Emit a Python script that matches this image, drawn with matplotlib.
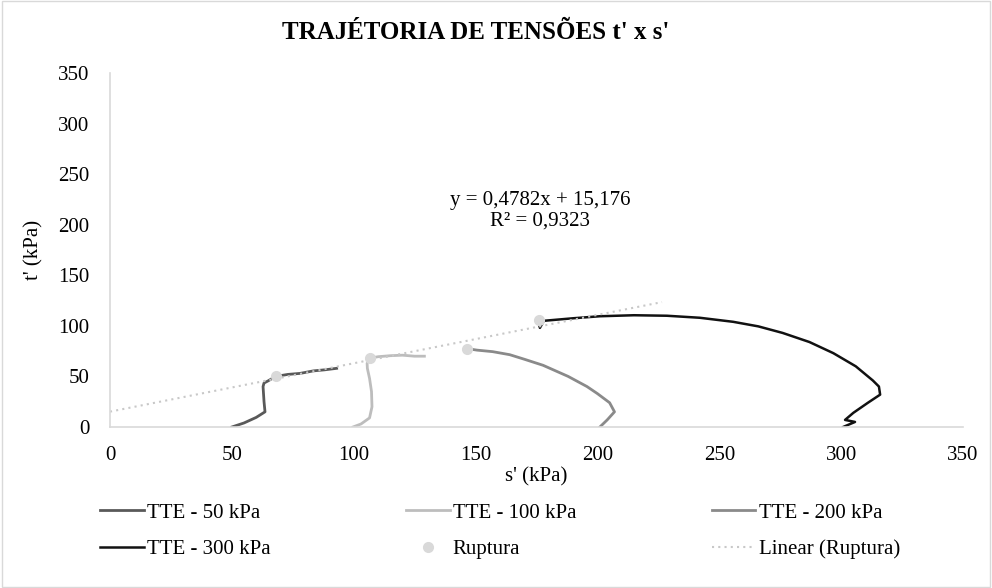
import matplotlib.pyplot as plt
import numpy as np
from matplotlib.patches import Rectangle

plt.rcParams['font.family'] = ['Liberation Serif', 'DejaVu Serif']

# stress paths (s', t') in kPa
s50 = [50, 55, 60, 63.6, 63.2, 62.8, 63.2, 64.8, 68, 73, 78, 83.5, 88, 93]
t50 = [0, 4, 9.5, 15, 25, 40, 43.5, 45.5, 50, 52, 53, 55.5, 56.5, 58]

s100 = [99.7, 103, 106.5, 107.5, 107.3, 106.5, 105.6, 105.5, 106.7, 110, 115, 120, 125, 129]
t100 = [0, 3, 9, 20, 35, 48, 58, 63, 68, 69.5, 70.5, 71, 70, 70]

s200 = [201, 204, 207, 205, 200, 195.7, 188, 177.7, 170, 164, 157, 150.6, 146.5]
t200 = [0, 7, 15, 24, 33, 40, 50, 61, 67, 71.5, 74.5, 76, 77.5]

s300 = [300.8, 305.7, 301.6, 305, 311, 316, 315.5, 313, 306, 296.8, 287, 276,
        266, 255.7, 242, 228.5, 215, 201, 190, 178, 176.4, 176]
t300 = [0, 5, 7, 14, 24, 32, 40, 46, 60, 73, 84, 93,
        99.5, 104, 108, 110, 110.5, 109.5, 107.5, 105, 98, 102]

rup_s = [68, 106.7, 146.5, 176]
rup_t = [50, 68, 77.5, 106]

# trendline as printed on the chart
slope, intercept, r2 = 0.4782, 15.176, 0.9323

fig = plt.figure(figsize=(9.92, 5.88), dpi=100)
ax = fig.add_axes([110/992, 161/588, 853/992, 354/588])

l50, = ax.plot(s50, t50, color='#595959', lw=2.0, label='TTE - 50 kPa')
l100, = ax.plot(s100, t100, color='#bdbdbd', lw=2.0, label='TTE - 100 kPa')
l200, = ax.plot(s200, t200, color='#8a8a8a', lw=2.0, label='TTE - 200 kPa')
l300, = ax.plot(s300, t300, color='#111111', lw=1.8, label='TTE - 300 kPa')

xt = np.array([0, 226.5])
ltr, = ax.plot(xt, slope * xt + intercept, color='#c8c8c8', lw=1.5,
               ls=(0, (1, 2)), label='Linear (Ruptura)')
lrup, = ax.plot(rup_s, rup_t, 'o', color='#d9d9d9', ms=7, label='Ruptura', zorder=5)

ax.text(176.5, 214, 'y = 0,4782x + 15,176\nR² = 0,9323', ha='center', va='center',
        fontsize=15, linespacing=1.1)

ax.set_xlim(0, 350)
ax.set_ylim(0, 350)
ax.set_xticks(np.arange(0, 351, 50))
ax.set_yticks(np.arange(0, 351, 50))
ax.tick_params(length=0, labelsize=15)
ax.tick_params(axis='x', pad=14)
ax.tick_params(axis='y', pad=15)
for side in ['top', 'right']:
    ax.spines[side].set_visible(False)
for side in ['left', 'bottom']:
    ax.spines[side].set_color('#d9d9d9')
    ax.spines[side].set_linewidth(1.2)

ax.set_xlabel("s' (kPa)", fontsize=15, labelpad=1)
ax.set_ylabel("t' (kPa)", fontsize=15, labelpad=10)

fig.text(0.48, 0.945, "TRAJÉTORIA DE TENSÕES t' x s'", ha='center', va='center',
         fontsize=18, fontweight='bold')

handles = [l50, l300, l100, lrup, l200, ltr]
fig.legend(handles=handles, labels=[h.get_label() for h in handles], ncol=3,
           loc='upper left', bbox_to_anchor=(100/992, 1 - 503/588), frameon=False,
           fontsize=15, handlelength=2.1, handletextpad=0.15, columnspacing=6.5,
           labelspacing=0.8, borderpad=0, borderaxespad=0)

fig.patches.append(Rectangle((0.002, 0.002), 0.996, 0.996, transform=fig.transFigure,
                             fill=False, edgecolor='#d9d9d9', lw=1))

fig.savefig('out.png', dpi=100)
